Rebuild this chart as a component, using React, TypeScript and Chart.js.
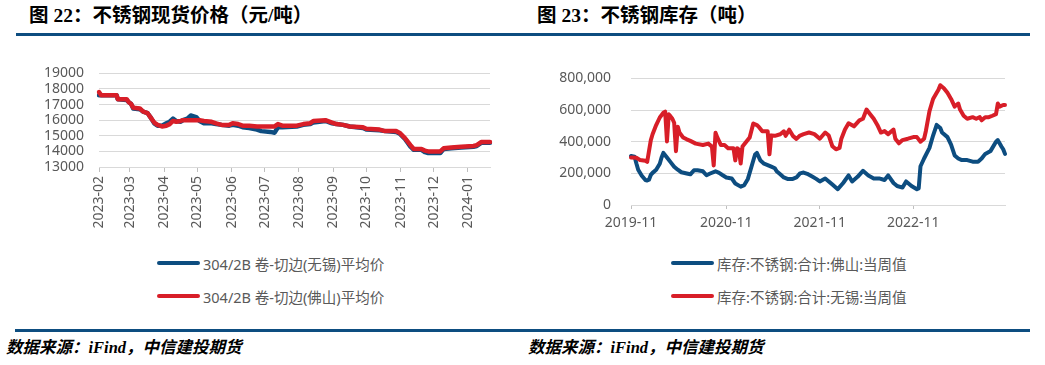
import React, { useEffect, useRef } from "react";
import { Chart, registerables } from "chart.js";

Chart.register(...registerables);

// ---------- Figure 22: stainless steel spot price (yuan/ton) ----------
const priceStart = "2023-02-01";
const priceEnd = "2024-01-21";
const priceYTicks = [13000, 14000, 15000, 16000, 17000, 18000, 19000];
const priceDates = [
  "2023-02-01", "2023-02-03", "2023-02-17", "2023-02-18", "2023-02-26", "2023-02-28",
  "2023-03-02", "2023-03-04", "2023-03-10", "2023-03-13", "2023-03-17", "2023-03-20",
  "2023-03-23", "2023-03-26", "2023-03-30", "2023-04-03", "2023-04-06", "2023-04-09",
  "2023-04-12", "2023-04-16", "2023-04-18", "2023-04-22", "2023-04-25", "2023-04-30",
  "2023-05-03", "2023-05-07", "2023-05-14", "2023-05-18", "2023-05-23", "2023-05-30",
  "2023-06-02", "2023-06-07", "2023-06-11", "2023-06-17", "2023-06-24", "2023-06-28",
  "2023-07-06", "2023-07-10", "2023-07-13", "2023-07-17", "2023-07-30", "2023-08-05",
  "2023-08-11", "2023-08-14", "2023-08-25", "2023-08-31", "2023-09-04", "2023-09-10",
  "2023-09-16", "2023-09-28", "2023-10-01", "2023-10-13", "2023-10-18", "2023-10-28",
  "2023-10-31", "2023-11-05", "2023-11-10", "2023-11-13", "2023-11-20", "2023-11-23",
  "2023-11-26", "2023-12-07", "2023-12-10", "2023-12-17", "2023-12-26", "2024-01-06",
  "2024-01-09", "2024-01-13", "2024-01-21",
];
const wuxiPrice = [
  17600, 17600, 17600, 17350, 17300, 17150,
  17050, 16750, 16700, 16550, 16450, 16150,
  15800, 15650, 15650, 15800, 15900, 16100,
  15950, 15900, 16000, 16100, 16300, 16200,
  15950, 15800, 15800, 15750, 15700, 15650,
  15700, 15650, 15550, 15500, 15400, 15300,
  15250, 15200, 15550, 15550, 15600, 15700,
  15750, 15850, 15950, 15800, 15750, 15700,
  15600, 15500, 15400, 15350, 15300, 15250,
  15150, 14800, 14300, 14100, 14100, 13950,
  13900, 13900, 14150, 14200, 14250, 14300,
  14350, 14550, 14550,
];
const foshanPrice = [
  17800, 17600, 17600, 17350, 17350, 17150,
  17050, 16800, 16750, 16550, 16450, 16150,
  15850, 15700, 15600, 15650, 15750, 15950,
  15900, 15950, 16000, 16000, 16000, 16000,
  16000, 15950, 15900, 15800, 15700, 15700,
  15800, 15750, 15650, 15650, 15600, 15600,
  15600, 15600, 15750, 15650, 15650, 15750,
  15800, 15950, 16000, 15850, 15750, 15700,
  15600, 15550, 15450, 15400, 15300, 15300,
  15200, 14850, 14400, 14150, 14150, 14050,
  14000, 14000, 14200, 14250, 14300, 14350,
  14400, 14600, 14600,
];
const priceSeriesNames = ["304/2B 卷-切边(无锡)平均价", "304/2B 卷-切边(佛山)平均价"];

// ---------- Figure 23: stainless steel inventory (tons) ----------
const stockStart = "2019-11-01";
const stockEnd = "2023-10-27";
const stockYTicks = [0, 200000, 400000, 600000, 800000];
const foshanStockDates = [
  "2019-11-01", "2019-11-15", "2019-11-22", "2019-11-29", "2019-12-13", "2019-12-27",
  "2020-01-03", "2020-01-10", "2020-01-17", "2020-01-24", "2020-02-07", "2020-02-21",
  "2020-02-28", "2020-03-06", "2020-03-20", "2020-04-03", "2020-04-17", "2020-05-01",
  "2020-05-15", "2020-06-05", "2020-06-19", "2020-07-03", "2020-07-17", "2020-08-07",
  "2020-08-21", "2020-09-04", "2020-09-25", "2020-10-09", "2020-10-23", "2020-11-06",
  "2020-11-27", "2020-12-11", "2021-01-01", "2021-01-15", "2021-01-29", "2021-02-12",
  "2021-02-26", "2021-03-05", "2021-03-19", "2021-04-02", "2021-04-16", "2021-04-30",
  "2021-05-14", "2021-05-21", "2021-06-04", "2021-06-18", "2021-07-02", "2021-07-23",
  "2021-08-06", "2021-08-20", "2021-09-03", "2021-09-17", "2021-10-08", "2021-10-22",
  "2021-11-05", "2021-11-26", "2021-12-10", "2021-12-24", "2022-01-14", "2022-02-04",
  "2022-02-25", "2022-03-11", "2022-04-01", "2022-04-22", "2022-05-13", "2022-06-03",
  "2022-06-24", "2022-07-15", "2022-07-29", "2022-08-19", "2022-09-02", "2022-09-23",
  "2022-10-07", "2022-10-28", "2022-11-18", "2022-11-25", "2022-12-02", "2022-12-16",
  "2023-01-06", "2023-01-20", "2023-02-03", "2023-02-17", "2023-02-24", "2023-03-17",
  "2023-03-31", "2023-04-14", "2023-04-28", "2023-05-12", "2023-06-02", "2023-06-23",
  "2023-07-14", "2023-07-28", "2023-08-11", "2023-09-01", "2023-09-22", "2023-09-29",
  "2023-10-13", "2023-10-20", "2023-10-27",
];
const foshanStock = [
  310000, 305000, 262000, 223000, 185000, 158000,
  155000, 160000, 190000, 203000, 223000, 261000,
  300000, 329000, 300000, 271000, 242000, 223000,
  207000, 199000, 194000, 219000, 219000, 213000,
  188000, 199000, 213000, 203000, 188000, 174000,
  168000, 136000, 116000, 126000, 165000, 242000,
  319000, 329000, 281000, 261000, 252000, 242000,
  232000, 213000, 194000, 174000, 165000, 165000,
  174000, 200000, 205000, 197000, 178000, 165000,
  149000, 168000, 149000, 129000, 100000, 139000,
  187000, 149000, 178000, 216000, 187000, 168000,
  168000, 158000, 187000, 139000, 120000, 110000,
  149000, 120000, 100000, 105000, 245000, 294000,
  361000, 439000, 506000, 487000, 458000, 429000,
  381000, 313000, 294000, 284000, 284000, 274000,
  274000, 294000, 323000, 342000, 400000, 410000,
  370000, 352000, 323000,
];
const wuxiStockDates = [
  "2019-11-01", "2019-11-22", "2019-12-06", "2019-12-27", "2020-01-03", "2020-01-10",
  "2020-01-17", "2020-01-24", "2020-02-07", "2020-02-21", "2020-03-06", "2020-03-13",
  "2020-03-20", "2020-03-27", "2020-04-03", "2020-04-10", "2020-04-17", "2020-04-24",
  "2020-05-01", "2020-05-08", "2020-05-22", "2020-06-05", "2020-06-19", "2020-07-10",
  "2020-08-07", "2020-08-28", "2020-09-11", "2020-09-18", "2020-09-25", "2020-10-02",
  "2020-10-16", "2020-10-30", "2020-11-13", "2020-12-04", "2020-12-11", "2020-12-18",
  "2020-12-25", "2021-01-01", "2021-01-08", "2021-01-22", "2021-02-05", "2021-02-19",
  "2021-03-05", "2021-03-12", "2021-03-26", "2021-04-16", "2021-04-23", "2021-04-30",
  "2021-05-14", "2021-06-04", "2021-06-18", "2021-06-25", "2021-07-09", "2021-07-23",
  "2021-08-06", "2021-08-20", "2021-09-03", "2021-09-24", "2021-10-15", "2021-11-05",
  "2021-11-26", "2021-12-10", "2021-12-24", "2022-01-07", "2022-01-21", "2022-01-28",
  "2022-02-11", "2022-02-25", "2022-03-18", "2022-04-08", "2022-04-22", "2022-05-06",
  "2022-05-20", "2022-06-03", "2022-06-17", "2022-07-01", "2022-07-15", "2022-07-29",
  "2022-08-19", "2022-08-26", "2022-09-09", "2022-09-23", "2022-10-14", "2022-11-04",
  "2022-11-18", "2022-12-02", "2022-12-16", "2022-12-23", "2023-01-06", "2023-01-20",
  "2023-02-03", "2023-02-10", "2023-02-17", "2023-03-03", "2023-03-17", "2023-03-31",
  "2023-04-14", "2023-04-28", "2023-05-05", "2023-05-19", "2023-06-02", "2023-06-23",
  "2023-07-07", "2023-07-21", "2023-07-28", "2023-08-11", "2023-08-25", "2023-09-08",
  "2023-09-22", "2023-09-29", "2023-10-06", "2023-10-20", "2023-10-27",
];
const wuxiStock = [
  300000, 298000, 285000, 280000, 272000, 340000,
  408000, 447000, 505000, 553000, 583000, 590000,
  402000, 573000, 560000, 545000, 520000, 340000,
  495000, 456000, 427000, 415000, 405000, 388000,
  379000, 388000, 369000, 250000, 456000, 427000,
  379000, 379000, 359000, 359000, 282000, 359000,
  350000, 262000, 369000, 398000, 427000, 515000,
  505000, 495000, 466000, 466000, 320000, 440000,
  437000, 447000, 466000, 437000, 476000, 437000,
  418000, 439000, 448000, 458000, 448000, 419000,
  458000, 439000, 371000, 352000, 361000, 419000,
  477000, 516000, 497000, 535000, 545000, 603000,
  574000, 545000, 506000, 458000, 467000, 448000,
  477000, 419000, 390000, 410000, 419000, 429000,
  429000, 400000, 419000, 468000, 593000, 670000,
  709000, 728000, 757000, 738000, 709000, 670000,
  622000, 641000, 603000, 564000, 545000, 555000,
  545000, 555000, 535000, 555000, 555000, 564000,
  574000, 641000, 622000, 632000, 632000,
];
const stockSeriesNames = ["库存:不锈钢:合计:佛山:当周值", "库存:不锈钢:合计:无锡:当周值"];

// ---------- styling ----------
const BLUE = "#0D4D80";
const RED = "#D81E28";
const GRID = "#D9D9D9";
const TICK_COLOR = "#595959";
const SANS = "'Noto Sans', 'Noto Sans CJK SC', sans-serif";
const HEAD = "'Liberation Serif', 'Noto Sans CJK SC', serif";

const DAY = 86400000;
function dateList(start: string, end: string, stepDays: number): string[] {
  const out: string[] = [];
  let t = Date.parse(start + "T00:00:00Z");
  const e = Date.parse(end + "T00:00:00Z");
  while (t <= e) {
    out.push(new Date(t).toISOString().slice(0, 10));
    t += stepDays * DAY;
  }
  return out;
}
function placeOnAxis(labels: string[], start: string, stepDays: number, dates: string[], values: number[]) {
  const arr: (number | null)[] = labels.map(() => null);
  const t0 = Date.parse(start + "T00:00:00Z");
  dates.forEach((d, i) => {
    const k = Math.round((Date.parse(d + "T00:00:00Z") - t0) / (stepDays * DAY));
    if (k >= 0 && k < arr.length) arr[k] = values[i];
  });
  return arr;
}

function lineDataset(label: string, data: (number | null)[], color: string, order: number, width: number) {
  return {
    label,
    data,
    borderColor: color,
    backgroundColor: color,
    borderWidth: width,
    pointRadius: 0,
    tension: 0,
    spanGaps: true,
    borderCapStyle: "round" as const,
    borderJoinStyle: "round" as const,
    order,
  };
}

function priceConfig(): any {
  const labels = dateList(priceStart, priceEnd, 1);
  return {
    type: "line",
    data: {
      labels,
      datasets: [
        lineDataset(priceSeriesNames[0], placeOnAxis(labels, priceStart, 1, priceDates, wuxiPrice), BLUE, 1, 4.5),
        lineDataset(priceSeriesNames[1], placeOnAxis(labels, priceStart, 1, priceDates, foshanPrice), RED, 0, 4.5),
      ],
    },
    options: {
      responsive: false,
      animation: false,
      layout: { padding: { top: 17, right: 7, left: 0, bottom: 0 } },
      plugins: { legend: { display: false }, tooltip: { enabled: false } },
      scales: {
        x: {
          type: "category",
          offset: false,
          afterBuildTicks: (scale: any) => {
            scale.ticks = scale.ticks.filter((t: any) => labels[t.value].endsWith("-01"));
          },
          afterFit: (scale: any) => {
            scale.height = 73;
          },
          ticks: {
            autoSkip: false,
            maxRotation: 90,
            minRotation: 90,
            padding: 4,
            color: TICK_COLOR,
            font: { family: SANS, size: 14 },
            callback: (v: any) => labels[v].slice(0, 7),
          },
          grid: { display: true, drawOnChartArea: false, drawTicks: true, tickLength: 5, color: "#BFBFBF" },
          border: { display: true, color: GRID, width: 1 },
        },
        y: {
          min: priceYTicks[0],
          max: priceYTicks[priceYTicks.length - 1],
          afterBuildTicks: (scale: any) => {
            scale.ticks = priceYTicks.map((v) => ({ value: v }));
          },
          afterFit: (scale: any) => {
            scale.width = 82;
          },
          ticks: {
            autoSkip: false,
            padding: 15,
            color: TICK_COLOR,
            font: { family: SANS, size: 14 },
            callback: (v: any) => String(v),
          },
          grid: { color: GRID, lineWidth: 1, drawTicks: false },
          border: { display: false },
        },
      },
    },
  };
}

function stockConfig(): any {
  const labels = dateList(stockStart, stockEnd, 7);
  const isTick = (d: string) => d.slice(5, 7) === "11" && Number(d.slice(8, 10)) <= 7;
  return {
    type: "line",
    data: {
      labels,
      datasets: [
        lineDataset(stockSeriesNames[0], placeOnAxis(labels, stockStart, 7, foshanStockDates, foshanStock), BLUE, 1, 4),
        lineDataset(stockSeriesNames[1], placeOnAxis(labels, stockStart, 7, wuxiStockDates, wuxiStock), RED, 0, 4),
      ],
    },
    options: {
      responsive: false,
      animation: false,
      layout: { padding: { top: 17, right: 15, left: 0, bottom: 0 } },
      plugins: { legend: { display: false }, tooltip: { enabled: false } },
      scales: {
        x: {
          type: "category",
          offset: false,
          afterBuildTicks: (scale: any) => {
            scale.ticks = scale.ticks.filter((t: any) => isTick(labels[t.value]));
          },
          afterFit: (scale: any) => {
            scale.height = 35;
          },
          ticks: {
            autoSkip: false,
            maxRotation: 0,
            minRotation: 0,
            padding: 6,
            color: TICK_COLOR,
            font: { family: SANS, size: 14 },
            callback: (v: any) => labels[v].slice(0, 7),
          },
          grid: { display: true, drawOnChartArea: false, drawTicks: true, tickLength: 4, color: "#BFBFBF" },
          border: { display: true, color: GRID, width: 1 },
        },
        y: {
          min: stockYTicks[0],
          max: stockYTicks[stockYTicks.length - 1],
          afterBuildTicks: (scale: any) => {
            scale.ticks = stockYTicks.map((v) => ({ value: v }));
          },
          afterFit: (scale: any) => {
            scale.width = 91;
          },
          ticks: {
            autoSkip: false,
            padding: 20,
            color: TICK_COLOR,
            font: { family: SANS, size: 14 },
            callback: (v: any) => Number(v).toLocaleString("en-US"),
          },
          grid: { color: GRID, lineWidth: 1, drawTicks: false },
          border: { display: false },
        },
      },
    },
  };
}

function ChartCanvas({ make, left, top, width, height }: any) {
  const ref = useRef<HTMLCanvasElement>(null);
  useEffect(() => {
    const chart = new Chart(ref.current as HTMLCanvasElement, make());
    return () => chart.destroy();
  }, []);
  return (
    <canvas
      ref={ref}
      width={width}
      height={height}
      style={{ position: "absolute", left, top, width, height }}
    />
  );
}

function LegendRow({ left, cy, color, text }: any) {
  return (
    <div
      style={{
        position: "absolute",
        left,
        top: cy - 11,
        height: 22,
        display: "flex",
        alignItems: "center",
        whiteSpace: "nowrap",
      }}
    >
      <div style={{ width: 43, height: 4, borderRadius: 2, background: color, marginRight: 3 }} />
      <span style={{ fontFamily: SANS, fontSize: 14.5, color: TICK_COLOR }}>{text}</span>
    </div>
  );
}

const headStyle: React.CSSProperties = {
  position: "absolute",
  top: 4,
  fontFamily: HEAD,
  fontWeight: "bold",
  fontSize: 19.5,
  color: "#000",
  whiteSpace: "nowrap",
  lineHeight: "24px",
};
const footStyle: React.CSSProperties = {
  position: "absolute",
  top: 337,
  fontFamily: HEAD,
  fontWeight: "bold",
  fontStyle: "italic",
  fontSize: 16.5,
  color: "#000",
  whiteSpace: "nowrap",
  lineHeight: "22px",
};

export default function App() {
  return (
    <div style={{ position: "absolute", left: 0, top: 0, width: 1045, height: 365, background: "#fff", overflow: "hidden" }}>
      <div style={{ ...headStyle, left: 29 }}>图 22：不锈钢现货价格（元/吨）</div>
      <div style={{ ...headStyle, left: 537 }}>图 23：不锈钢库存（吨）</div>
      <div style={{ position: "absolute", left: 16, top: 33, width: 1014, height: 3, background: BLUE }} />

      <ChartCanvas make={priceConfig} left={17} top={50} width={480} height={190} />
      <ChartCanvas make={stockConfig} left={540} top={50} width={480} height={190} />

      <LegendRow left={157} cy={263} color={BLUE} text={priceSeriesNames[0]} />
      <LegendRow left={157} cy={296} color={RED} text={priceSeriesNames[1]} />
      <LegendRow left={671} cy={263} color={BLUE} text={stockSeriesNames[0]} />
      <LegendRow left={671} cy={296} color={RED} text={stockSeriesNames[1]} />

      <div style={{ position: "absolute", left: 15, top: 329, width: 1015, height: 3, background: BLUE }} />
      <div style={{ ...footStyle, left: 6 }}>数据来源：iFind，中信建投期货</div>
      <div style={{ ...footStyle, left: 528 }}>数据来源：iFind，中信建投期货</div>
    </div>
  );
}
